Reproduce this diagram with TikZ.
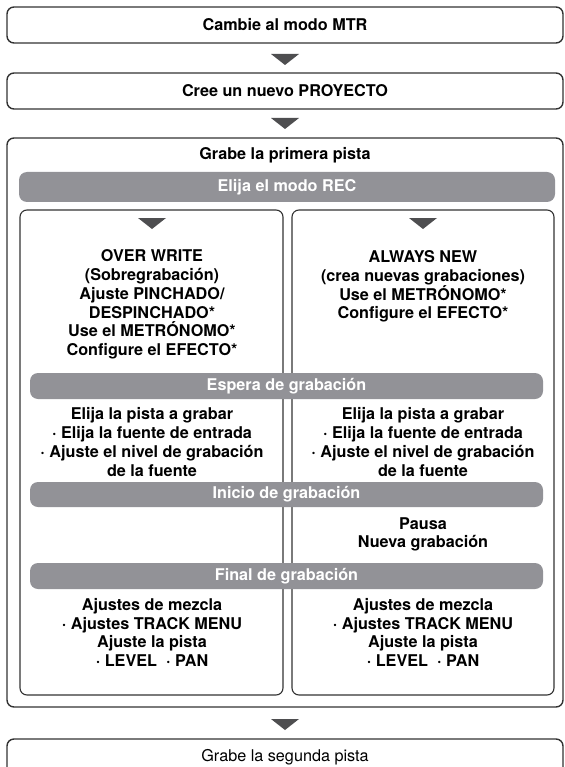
\documentclass[tikz,border=0pt]{standalone}
\usepackage{fontspec}
\setmainfont{TeX Gyre Heros}
\usetikzlibrary{positioning}
\definecolor{bargray}{RGB}{146,146,151}
\definecolor{trigray}{RGB}{78,78,80}
\definecolor{linegray}{RGB}{50,50,50}

\begin{document}
\begin{tikzpicture}[x=1pt, y=-1pt,
  txt/.style={font=\fontsize{16.2}{18.7}\selectfont\bfseries, align=center, inner sep=0pt},
  stepbox/.style={draw=linegray, line width=1.4pt, rounded corners=7pt,
                  minimum width=556pt, minimum height=36pt, txt},
  bar/.style={fill=bargray, rounded corners=8pt, text=white, txt, minimum height=#1},
  frame/.style={draw=linegray, line width=1.1pt, rounded corners=7pt},
  tri/.style={fill=trigray},
]
\useasboundingbox (0,0) rectangle (564,767);

%% Top steps
\node[stepbox] (mtr) at (285,25) {Cambie al modo MTR};
\node[stepbox] (proy) at (285,91) {Cree un nuevo PROYECTO};

%% Arrow triangles
\foreach \y in {54,118,719} {
  \fill[tri] (271,\y) -- (299,\y) -- (285,{\y+11}) -- cycle;
}
\foreach \x in {152,423} {
  \fill[tri] ({\x-14},218) -- ({\x+14},218) -- (\x,229) -- cycle;
}

%% First track frame
\draw[frame, line width=1.4pt] (7,138) rectangle (563,707);
\node[txt] (prim) at (285,155) {Grabe la primera pista};
\node[bar=30pt, minimum width=536pt] (rec) at (287,187) {Elija el modo REC};

%% Two mode columns
\draw[frame] (20,210) rectangle (283,695);
\draw[frame] (292,210) rectangle (554,695);

\node[txt] (ow) at (152,304.5) {OVER WRITE\\(Sobregrabación)\\Ajuste PINCHADO/\\DESPINCHADO*\\Use el METRÓNOMO*\\Configure el EFECTO*};
\node[txt] (an) at (423,286.5) {ALWAYS NEW\\(crea nuevas grabaciones)\\Use el METRÓNOMO*\\Configure el EFECTO*};

%% Standby
\node[bar=26pt, minimum width=513pt] (esp) at (286.5,386) {Espera de grabación};
\node[txt] (espL) at (152,442) {Elija la pista a grabar\\· Elija la fuente de entrada\\· Ajuste el nivel de grabación\\de la fuente};
\node[txt] (espR) at (423,442) {Elija la pista a grabar\\· Elija la fuente de entrada\\· Ajuste el nivel de grabación\\de la fuente};

%% Start
\node[bar=25pt, minimum width=513pt] (ini) at (286.5,494.5) {Inicio de grabación};
\node[txt] (pausa) at (423,534.5) {Pausa\\Nueva grabación};

%% End
\node[bar=26pt, minimum width=513pt] (fin) at (286.5,576) {Final de grabación};
\node[txt] (mezL) at (152,632.5) {Ajustes de mezcla\\· Ajustes TRACK MENU\\Ajuste la pista\\· LEVEL~~· PAN};
\node[txt] (mezR) at (423,632.5) {Ajustes de mezcla\\· Ajustes TRACK MENU\\Ajuste la pista\\· LEVEL~~· PAN};

%% Second track
\draw[frame, line width=1.4pt] (7,739) rectangle (563,795);
\node[txt, font=\fontsize{16.2}{18.7}\selectfont] (seg) at (285,757) {Grabe la segunda pista};

\end{tikzpicture}
\end{document}
